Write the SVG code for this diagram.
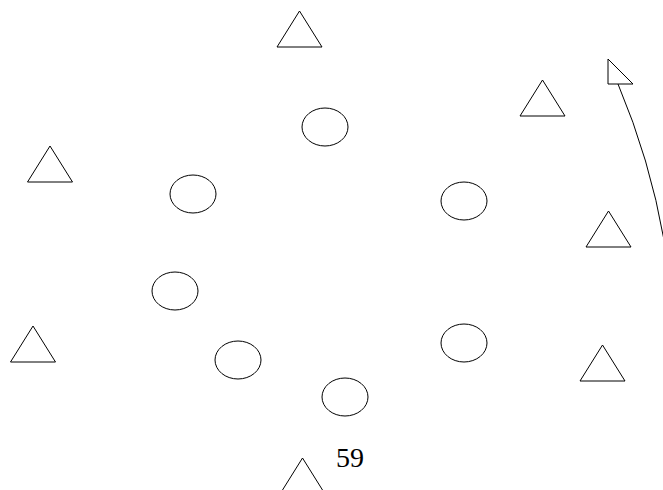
<svg xmlns="http://www.w3.org/2000/svg" width="663" height="490" viewBox="0 0 663 490">
<style>
.s{fill:none;stroke:#000;stroke-width:1}
.lbl{font-family:"Liberation Serif","Times New Roman",serif;font-size:28px;fill:#000}
</style>
<defs>
<polygon id="tri" points="0,0 -22.5,36 22.5,36" fill="#fff" stroke="#000" stroke-width="1"/>
<ellipse id="ell" cx="0" cy="0" rx="23" ry="19" fill="#fff" stroke="#000" stroke-width="1"/>
</defs>
<rect width="663" height="490" fill="#fff"/>
<g id="connectors">
<path class="s" d="M618,84 Q650,160 664,240"/>
<polygon points="608,59 608,84 633,84" fill="#fff" stroke="#000" stroke-width="1"/>
</g>
<g id="t1"><use href="#tri" x="299.5" y="11"/></g>
<g id="t2"><use href="#tri" x="542.5" y="80"/></g>
<g id="t3"><use href="#tri" x="50" y="146"/></g>
<g id="t4"><use href="#tri" x="33" y="326"/></g>
<g id="t5"><use href="#tri" x="608.5" y="211"/></g>
<g id="t6"><use href="#tri" x="602.5" y="345"/></g>
<g id="t7"><use href="#tri" x="302.5" y="458"/></g>
<g id="e1"><use href="#ell" x="325" y="127"/></g>
<g id="e2"><use href="#ell" x="193" y="194"/></g>
<g id="e3"><use href="#ell" x="464" y="201"/></g>
<g id="e4"><use href="#ell" x="175" y="291"/></g>
<g id="e5"><use href="#ell" x="238" y="360"/></g>
<g id="e6"><use href="#ell" x="464" y="343"/></g>
<g id="e7"><use href="#ell" x="345" y="397"/></g>
<g id="label"><text class="lbl" x="336" y="467">59</text></g>
</svg>
